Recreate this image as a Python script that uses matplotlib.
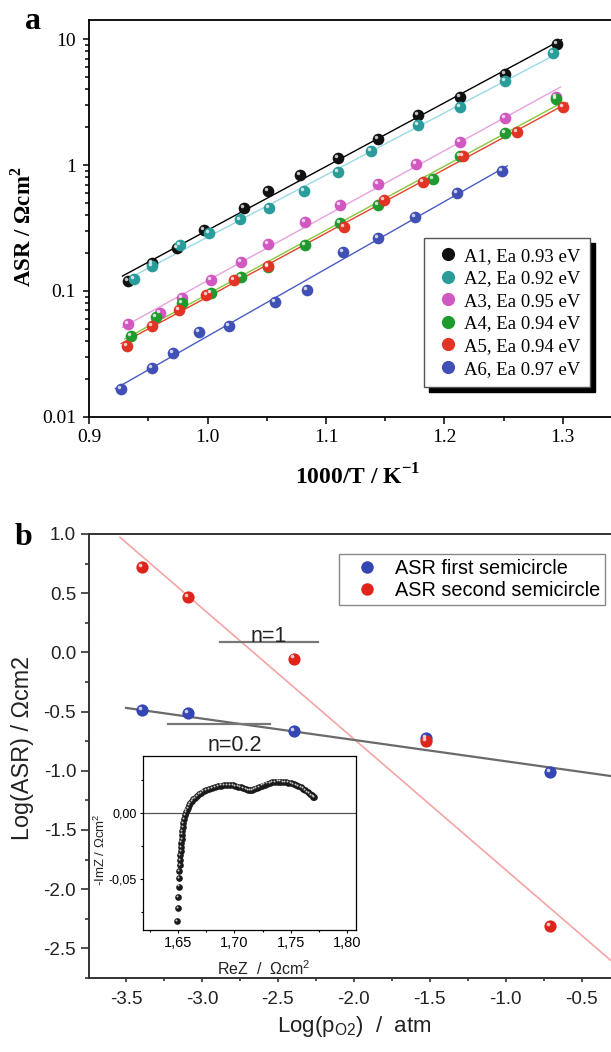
import matplotlib
matplotlib.use('Agg')
import matplotlib.pyplot as plt
import numpy as np
from matplotlib.lines import Line2D
from matplotlib.ticker import MultipleLocator, LogLocator, NullFormatter
from matplotlib.transforms import offset_copy

plt.rcParams['font.family'] = ['Liberation Serif', 'DejaVu Serif']
plt.rcParams['mathtext.fontset'] = 'custom'
plt.rcParams['mathtext.rm'] = 'Liberation Serif'
plt.rcParams['mathtext.bf'] = 'Liberation Serif:bold'
plt.rcParams['mathtext.sf'] = 'Liberation Sans'

# ---- panel a: ASR vs 1000/T ----
a1_x = [0.933, 0.953, 0.974, 0.997, 1.031, 1.051, 1.078, 1.110, 1.144, 1.178, 1.213, 1.251, 1.295]
a1_y = [0.119, 0.167, 0.219, 0.305, 0.457, 0.62, 0.84, 1.14, 1.61, 2.51, 3.45, 5.27, 9.13]
a2_x = [0.938, 0.953, 0.977, 1.001, 1.027, 1.052, 1.081, 1.110, 1.138, 1.178, 1.213, 1.251, 1.292]
a2_y = [0.125, 0.157, 0.23, 0.29, 0.369, 0.457, 0.62, 0.877, 1.29, 2.09, 2.91, 4.68, 7.74]
a3_x = [0.933, 0.960, 0.978, 1.003, 1.028, 1.051, 1.082, 1.112, 1.144, 1.176, 1.213, 1.251, 1.294]
a3_y = [0.0543, 0.0672, 0.0883, 0.123, 0.169, 0.234, 0.351, 0.485, 0.708, 1.02, 1.52, 2.37, 3.49]
a4_x = [0.935, 0.956, 0.978, 1.003, 1.028, 1.051, 1.082, 1.112, 1.144, 1.190, 1.213, 1.251, 1.294]
a4_y = [0.0435, 0.062, 0.080, 0.097, 0.129, 0.155, 0.23, 0.347, 0.485, 0.776, 1.17, 1.80, 3.34]
a5_x = [0.932, 0.953, 0.976, 0.999, 1.022, 1.051, 1.115, 1.149, 1.182, 1.216, 1.261, 1.300]
a5_y = [0.0366, 0.0526, 0.071, 0.0922, 0.121, 0.159, 0.321, 0.532, 0.730, 1.19, 1.82, 2.91]
a6_x = [0.927, 0.953, 0.971, 0.993, 1.018, 1.057, 1.084, 1.114, 1.144, 1.175, 1.211, 1.249]
a6_y = [0.0166, 0.0242, 0.0322, 0.0472, 0.0526, 0.0817, 0.102, 0.203, 0.262, 0.385, 0.601, 0.904]
a_labels = ['A1, Ea 0.93 eV', 'A2, Ea 0.92 eV', 'A3, Ea 0.95 eV',
            'A4, Ea 0.94 eV', 'A5, Ea 0.94 eV', 'A6, Ea 0.97 eV']
a_dot_colors = ['#111111', '#2a9d9a', '#d058c0', '#1f9a2e', '#e23424', '#4150b5']
a_line_colors = ['#000000', '#9ad8e4', '#e7a0df', '#86c83a', '#e8432a', '#4a5cc4']

# ---- panel b: ASR vs pO2 ----
b_x = [-3.395, -3.091, -2.393, -1.523, -0.710]
b_first = [-0.489, -0.510, -0.668, -0.722, -1.011]
b_second = [0.723, 0.470, -0.052, -0.752, -2.315]
first_line_x = [-3.50, -0.31]
first_line_y = [-0.469, -1.044]
second_line_x = [-3.54, -0.31]
second_line_y = [0.972, -2.60]
n1_x = [-2.880, -2.239]
n1_y = 0.0876
n02_x = [-3.221, -2.551]
n02_y = -0.609

# ---- inset: impedance spectrum ----
z_re = [1.6491, 1.6500, 1.6503, 1.6506, 1.6509, 1.6512, 1.6515, 1.6518, 1.6521, 1.6524,
        1.6526, 1.6530, 1.6532, 1.6535, 1.6538, 1.6541, 1.6544, 1.6550, 1.6559,
        1.6568, 1.6575, 1.6585, 1.6597, 1.6609, 1.6621, 1.6635, 1.6650, 1.6667, 1.6685,
        1.6705, 1.6726, 1.6750, 1.6774, 1.6800, 1.6826, 1.6852, 1.6879, 1.6905, 1.6932,
        1.6958, 1.6985, 1.7008, 1.7032, 1.7055, 1.7079, 1.7100, 1.7120, 1.7138, 1.7156,
        1.7177, 1.7197, 1.7220, 1.7244, 1.7268, 1.7291, 1.7315, 1.7338, 1.7362, 1.7385,
        1.7408, 1.7432, 1.7455, 1.7479, 1.7503, 1.7526, 1.7547, 1.7568, 1.7589, 1.7609,
        1.7630, 1.7650, 1.7668, 1.7685, 1.7700, 1.7706]
z_im = [-0.0820, -0.0718, -0.0635, -0.0558, -0.0490, -0.0437, -0.0393, -0.0355, -0.0320, -0.0287,
        -0.0254, -0.0223, -0.0193, -0.0162, -0.0132, -0.0102, -0.0076, -0.0046, -0.0015,
        0.0010, 0.0025, 0.0042, 0.0063, 0.0078, 0.0091, 0.0106, 0.0119, 0.0132, 0.0145,
        0.0157, 0.0168, 0.0177, 0.0185, 0.0194, 0.0201, 0.0207, 0.0211, 0.0214, 0.0216,
        0.0215, 0.0213, 0.0209, 0.0203, 0.0197, 0.0190, 0.0184, 0.0180, 0.0179, 0.0180,
        0.0186, 0.0193, 0.0202, 0.0211, 0.0219, 0.0226, 0.0231, 0.0236, 0.0239, 0.0241,
        0.0241, 0.0239, 0.0237, 0.0234, 0.0228, 0.0221, 0.0214, 0.0206, 0.0197, 0.0188,
        0.0176, 0.0162, 0.0150, 0.0137, 0.0127, 0.0122]

W, H = 611, 1052
fig = plt.figure(figsize=(W / 100, H / 100), dpi=100)


def px_box(left, top, right, bottom):
    return [left / W, 1 - bottom / H, (right - left) / W, (bottom - top) / H]


def sphere(ax, x, y, color, size, z=3):
    # shaded ball: solid disc plus a small light spot up-left
    ax.plot(x, y, 'o', ms=size, color=color, mew=0, ls='none', zorder=z)
    tr = offset_copy(ax.transData, fig=ax.figure, x=-size * 0.17, y=size * 0.17, units='points')
    ax.plot(x, y, 'o', ms=size * 0.3, color='white', alpha=0.75, mew=0, ls='none',
            transform=tr, zorder=z + 0.1)


# ================= panel a =================
ax_a = fig.add_axes(px_box(89.3, 20, 622, 416.7))
ax_a.set_yscale('log')
ax_a.set_xlim(0.9, 1.35)
ax_a.set_ylim(0.01, 14.2)

a_xs = [a1_x, a2_x, a3_x, a4_x, a5_x, a6_x]
a_ys = [a1_y, a2_y, a3_y, a4_y, a5_y, a6_y]
for xs, ys, dc, lc in zip(a_xs, a_ys, a_dot_colors, a_line_colors):
    xs = np.array(xs)
    ys = np.array(ys)
    k, b = np.polyfit(xs, np.log10(ys), 1)
    xf = np.linspace(xs.min() - 0.005, xs.max() + 0.004, 50)
    ax_a.plot(xf, 10 ** (k * xf + b), color=lc, lw=1.0, zorder=2)
    sphere(ax_a, xs, ys, dc, 8.4)

ax_a.set_xticks([0.9, 1.0, 1.1, 1.2, 1.3], ['0.9', '1.0', '1.1', '1.2', '1.3'])
ax_a.xaxis.set_minor_locator(MultipleLocator(0.05))
ax_a.set_yticks([0.01, 0.1, 1, 10], ['0.01', '0.1', '1', '10'])
ax_a.yaxis.set_minor_locator(LogLocator(subs=np.arange(2, 10)))
ax_a.yaxis.set_minor_formatter(NullFormatter())
ax_a.tick_params(which='both', direction='out', width=1.1, labelsize=14)
ax_a.tick_params(axis='x', which='major', length=5.2, pad=4)
ax_a.tick_params(axis='x', which='minor', length=3)
ax_a.tick_params(axis='y', which='major', length=4.5, pad=5)
ax_a.tick_params(axis='y', which='minor', length=3)
ax_a.spines['right'].set_visible(False)
for s in ['left', 'bottom', 'top']:
    ax_a.spines[s].set_linewidth(1.3)

a_handles = [Line2D([], [], marker='o', ls='none', ms=9.5, color=c, mew=0) for c in a_dot_colors]
leg_a = ax_a.legend(a_handles, a_labels, loc='upper left', bbox_to_anchor=(0.6283, 0.4497),
                    borderaxespad=0, frameon=True, fancybox=False, framealpha=1,
                    edgecolor='#555555',
                    shadow={'color': 'black', 'alpha': 1, 'ox': 3.6, 'oy': -3.6},
                    prop={'family': 'Liberation Serif', 'size': 13.5},
                    borderpad=0.5, handlelength=1.6, handletextpad=0.05, labelspacing=0.29)
leg_a.get_frame().set_linewidth(1.0)

fig.text(0.0383, 0.7842, r'ASR / Ωcm$^\mathbf{2}$', rotation=90, ha='center', va='center',
         fontsize=16.5, fontweight='bold')
fig.text(0.5851, 0.5466, r'1000/T / K$^{\mathbf{-1}}$', ha='center', va='center',
         fontsize=17, fontweight='bold')
fig.text(25 / W, 1 - 29 / H, 'a', fontsize=23, fontweight='bold', ha='left', va='baseline')

# ================= panel b =================
sans = 'Liberation Sans'
ax_b = fig.add_axes(px_box(89.3, 534, 619, 978.3))
ax_b.set_xlim(-3.742, -0.254)
ax_b.set_ylim(-2.753, 1.0)

ax_b.plot(second_line_x, second_line_y, color='#f4a4a4', lw=1.2, zorder=2)
ax_b.plot(first_line_x, first_line_y, color='#6a6a6a', lw=1.6, zorder=2)
ax_b.plot(n1_x, [n1_y, n1_y], color='#777777', lw=1.6, zorder=2)
ax_b.plot(n02_x, [n02_y, n02_y], color='#777777', lw=1.6, zorder=2)
ax_b.text(np.mean(n1_x), n1_y + 0.004, 'n=1', ha='center', va='baseline',
          fontsize=15.5, family=sans, color='#222222')
ax_b.text(-2.781, -0.834, 'n=0.2', ha='center', va='baseline',
          fontsize=15.5, family=sans, color='#222222')

sphere(ax_b, b_x, b_first, '#3445b4', 8.8)
sphere(ax_b, b_x, b_second, '#e0241c', 8.8)

bx_ticks = [-3.5, -3.0, -2.5, -2.0, -1.5, -1.0, -0.5]
by_ticks = [1.0, 0.5, 0.0, -0.5, -1.0, -1.5, -2.0, -2.5]
ax_b.set_xticks(bx_ticks, ['%.1f' % v for v in bx_ticks], family=sans, color='#222222')
ax_b.set_yticks(by_ticks, ['%.1f' % v for v in by_ticks], family=sans, color='#222222')
ax_b.xaxis.set_minor_locator(MultipleLocator(0.25))
ax_b.yaxis.set_minor_locator(MultipleLocator(0.25))
ax_b.tick_params(which='both', direction='out', width=1.2, color='#333333', labelsize=13.5)
ax_b.tick_params(axis='x', which='major', length=3.2, pad=6)
ax_b.tick_params(axis='x', which='minor', length=2.2)
ax_b.tick_params(axis='y', which='major', length=5.6, pad=3.8)
ax_b.tick_params(axis='y', which='minor', length=3.1)
ax_b.spines['right'].set_visible(False)
for s in ['left', 'bottom', 'top']:
    ax_b.spines[s].set_linewidth(1.4)
    ax_b.spines[s].set_color('#333333')

b_handles = [Line2D([], [], marker='o', ls='none', ms=9, color=c, mew=0)
             for c in ['#3445b4', '#e0241c']]
leg_b = ax_b.legend(b_handles, ['ASR first semicircle', 'ASR second semicircle'],
                    loc='upper left', bbox_to_anchor=(0.4722, 0.9539), borderaxespad=0,
                    frameon=True, fancybox=False, framealpha=1, edgecolor='#888888',
                    prop={'family': sans, 'size': 14.3}, borderpad=0.25,
                    handlelength=2.23, handletextpad=0.31, labelspacing=0.13)
leg_b.get_frame().set_linewidth(1.0)

fig.text(23 / W, 1 - 748 / H, 'Log(ASR) / Ωcm2', rotation=90, ha='center', va='center',
         fontsize=16.8, family=sans, color='#222222')
fig.text(354 / W, 1 - 1031.7 / H, r'Log(p$_\mathsf{O2}$)  /  atm', ha='center', va='baseline',
         fontsize=16, family=sans, color='#222222')
fig.text(15 / W, 1 - 545 / H, 'b', fontsize=23, fontweight='bold', ha='left', va='baseline')

# ================= inset =================
ax_in = fig.add_axes(px_box(142.7, 756, 356, 930))
ax_in.set_facecolor('white')
ax_in.set_xlim(1.6186, 1.808)
ax_in.set_ylim(-0.0888, 0.0436)
ax_in.axhline(0, color='#555555', lw=0.9, zorder=1)
sphere(ax_in, z_re, z_im, '#1a1a1a', 4.8)

in_x = [1.65, 1.70, 1.75, 1.80]
ax_in.set_xticks(in_x, [('%.2f' % v).replace('.', ',') for v in in_x], family=sans, fontsize=10.5)
ax_in.set_yticks([-0.05, 0.0], ['-0,05', '0,00'], family=sans, fontsize=9)
ax_in.xaxis.set_minor_locator(MultipleLocator(0.025))
ax_in.yaxis.set_minor_locator(MultipleLocator(0.025))
ax_in.tick_params(which='both', direction='out', width=0.8)
ax_in.tick_params(which='major', length=2.5, pad=2)
ax_in.tick_params(which='minor', length=1.6)
for s in ax_in.spines.values():
    s.set_linewidth(0.9)

fig.text(100 / W, 1 - 850 / H, r'-ImZ / Ωcm$^\mathsf{2}$', rotation=90, ha='center', va='center',
         fontsize=9.5, family=sans, color='#222222')
fig.text(263.5 / W, 1 - 968.8 / H, r'ReZ  /  Ωcm$^\mathsf{2}$', ha='center', va='center',
         fontsize=11.5, family=sans, color='#222222')

fig.savefig('out.png', dpi=100)
